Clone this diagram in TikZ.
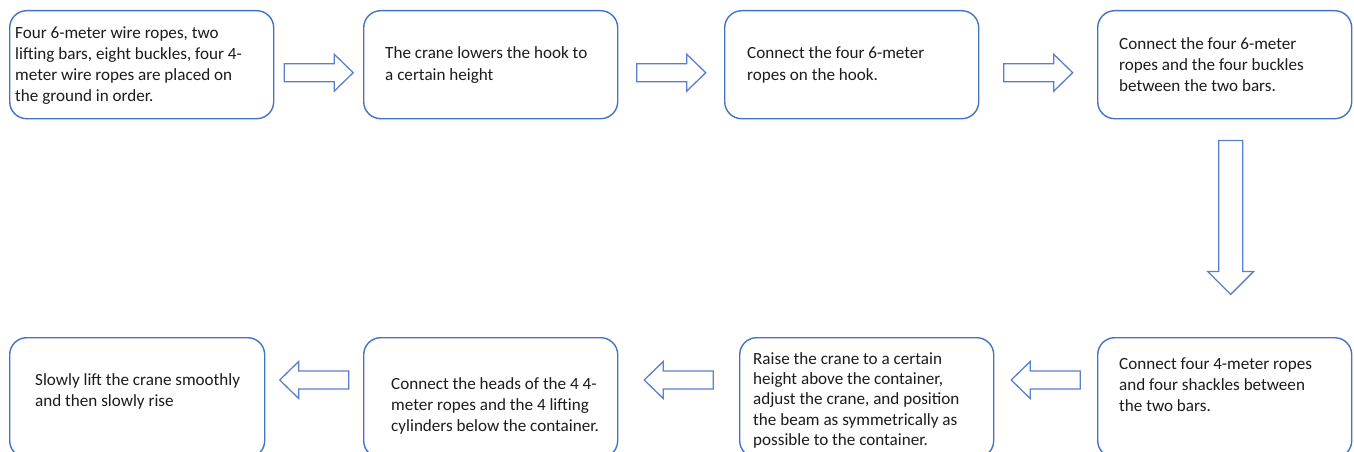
\documentclass[tikz,border=0pt]{standalone}
\usepackage{fontspec}
\setmainfont{Carlito}
\usetikzlibrary{calc}
\definecolor{frameblue}{HTML}{4472C4}
\definecolor{arrowblue}{HTML}{5A7FD0}
\definecolor{inktext}{HTML}{1C1C1C}
\begin{document}
\begin{tikzpicture}[x=1pt,y=-1pt,
  stepbox/.style={draw=frameblue, line width=1.4pt, rounded corners=17pt, fill=white,
    inner sep=0pt, anchor=north west},
  txt/.style={anchor=base west, inner sep=0pt, text=inktext,
    font=\fontsize{17.1}{21.3}\selectfont},
  blockarrow/.style={draw=arrowblue, line width=1.3pt, fill=white, line join=miter},
  pics/hblock/.style={code={
    \draw[blockarrow] (-34.5,-9) -- (15.5,-9) -- (15.5,-18.5) -- (34.5,0)
      -- (15.5,18.5) -- (15.5,9) -- (-34.5,9) -- cycle;}}
]
\clip (0,0) rectangle (1354,452);
\useasboundingbox (0,0) rectangle (1354,452);

% process steps, top row (left to right)
\node[stepbox, minimum width=264pt, minimum height=108pt] (b1) at (9,10) {};
\node[stepbox, minimum width=254pt, minimum height=108pt] (b2) at (363,10) {};
\node[stepbox, minimum width=254pt, minimum height=108pt] (b3) at (724,10) {};
\node[stepbox, minimum width=254pt, minimum height=108pt] (b4) at (1097,10) {};
% bottom row (right to left)
\node[stepbox, minimum width=254pt, minimum height=120pt] (b5) at (1097,337) {};
\node[stepbox, minimum width=254pt, minimum height=120pt] (b6) at (739,337) {};
\node[stepbox, minimum width=254pt, minimum height=120pt] (b7) at (363,337) {};
\node[stepbox, minimum width=255pt, minimum height=120pt] (b8) at (9,337) {};

% step texts
\node[txt] (t1) at ($(b1.north west)+(6,28)$) {\parbox[t]{300pt}{\raggedright
  Four 6-meter wire ropes, two\\lifting bars, eight buckles, four 4-\\meter wire ropes are placed on\\the ground in order.}};
\node[txt] (t2) at ($(b2.north west)+(22,49)$) {\parbox[t]{300pt}{\raggedright
  The crane lowers the hook to\\a certain height}};
\node[txt] (t3) at ($(b3.north west)+(23,49)$) {\parbox[t]{300pt}{\raggedright
  Connect the four 6-meter\\ropes on the hook.}};
\node[txt] (t4) at ($(b4.north west)+(22,39)$) {\parbox[t]{300pt}{\raggedright
  Connect the four 6-meter\\ropes and the four buckles\\between the two bars.}};
\node[txt] (t5) at ($(b5.north west)+(22,32)$) {\parbox[t]{300pt}{\raggedright
  Connect four 4-meter ropes\\and four shackles between\\the two bars.}};
\node[txt, font=\fontsize{17.1}{20.4}\selectfont] (t6) at ($(b6.north west)+(14,27)$) {\parbox[t]{300pt}{\raggedright
  Raise the crane to a certain\\height above the container,\\adjust the crane, and position\\the beam as symmetrically as\\possible to the container.}};
\node[txt] (t7) at ($(b7.north west)+(28,52)$) {\parbox[t]{300pt}{\raggedright
  Connect the heads of the 4 4-\\meter ropes and the 4 lifting\\cylinders below the container.}};
\node[txt] (t8) at ($(b8.north west)+(26,48)$) {\parbox[t]{300pt}{\raggedright
  Slowly lift the crane smoothly\\and then slowly rise}};

% block arrows between the steps
\coordinate (m12) at ($(b1.east)!0.5!(b2.west)+(0,8)$);
\coordinate (m23) at ($(b2.east)!0.5!(b3.west)+(0,8)$);
\coordinate (m34) at ($(b3.east)!0.5!(b4.west)+(0,8)$);
\pic at (m12) {hblock};
\pic at (m23) {hblock};
\pic at (m34) {hblock};

\coordinate (dtop) at ($(b4.south)+(6,21)$);
\draw[blockarrow, shift={(dtop)}] (-12,0) -- (12,0) -- (12,131) -- (23,131)
  -- (0,154) -- (-23,131) -- (-12,131) -- cycle;

\coordinate (m56) at ($(b6.north east)!0.5!(b5.north west)+(0,43)$);
\coordinate (m67) at ($(b7.north east)!0.5!(b6.north west)+(0,43)$);
\coordinate (m78) at ($(b8.north east)!0.5!(b7.north west)+(0,43)$);
\pic[xscale=-1] at (m56) {hblock};
\pic[xscale=-1] at (m67) {hblock};
\pic[xscale=-1] at (m78) {hblock};
\end{tikzpicture}
\end{document}
